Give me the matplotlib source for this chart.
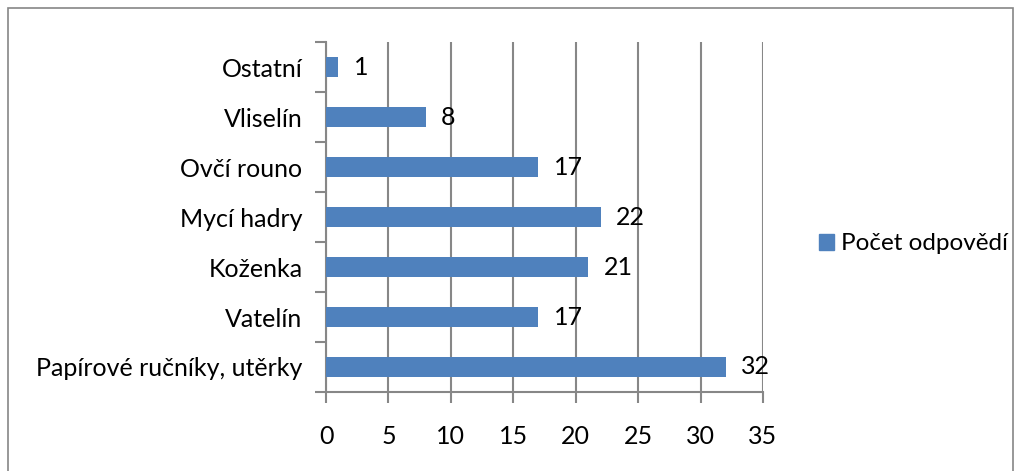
import matplotlib
matplotlib.use("Agg")
import matplotlib.pyplot as plt
from matplotlib.patches import Rectangle, Patch

categories = ["Papírové ručníky, utěrky", "Vatelín", "Koženka", "Mycí hadry",
              "Ovčí rouno", "Vliselín", "Ostatní"]
values = [32, 17, 21, 22, 17, 8, 1]
series_name = "Počet odpovědí"
xticks = [0, 5, 10, 15, 20, 25, 30, 35]

plt.rcParams['font.family'] = ['Lato', 'DejaVu Sans']
bar_color = "#4F81BD"
grid_color = "#878787"
fs = 18

fig = plt.figure(figsize=(10.21, 4.71), dpi=100)
ax = fig.add_axes([326/1021, 1 - 392/471, (763-326)/1021, (392-42)/471])

y = list(range(len(categories)))
ax.barh(y, values, height=0.4, color=bar_color, zorder=3)
ax.set_ylim(-0.5, len(categories) - 0.5)
ax.set_xlim(0, 35)
ax.set_xticks(xticks)
ax.set_xticklabels([str(t) for t in xticks], fontsize=fs)
ax.set_yticks([i - 0.5 for i in range(len(categories) + 1)], minor=False)
ax.set_yticklabels([])
ax.set_yticks(y, minor=True)
ax.set_yticklabels(categories, minor=True, fontsize=fs)
ax.tick_params(axis='y', which='minor', length=0, pad=17)
ax.tick_params(axis='y', which='major', length=8, color=grid_color, width=1.5, direction='out')
ax.tick_params(axis='x', length=8, color=grid_color, width=1.5, direction='out', pad=16)

ax.grid(axis='x', color=grid_color, linewidth=1.5, zorder=0)
for s in ['top', 'right']:
    ax.spines[s].set_visible(False)
for s in ['left', 'bottom']:
    ax.spines[s].set_color(grid_color)
    ax.spines[s].set_linewidth(1.5)

for yi, v in zip(y, values):
    ax.annotate(str(v), xy=(v, yi), xytext=(11, 0), textcoords='offset points',
                va='center', ha='left', fontsize=fs)

handle = Patch(facecolor=bar_color, edgecolor=bar_color)
fig.legend([handle], [series_name], loc='center left',
           bbox_to_anchor=(819/1021, 1 - 244/471), frameon=False, fontsize=17.5,
           borderpad=0, borderaxespad=0,
           handlelength=0.6, handleheight=0.6, handletextpad=0.3)

fig.patches.append(Rectangle((8/1021, -0.05), (1013-8)/1021, 1.05 - 8/471,
                             transform=fig.transFigure, fill=False,
                             edgecolor="#868686", linewidth=1.2))

fig.savefig("out.png", dpi=100)
